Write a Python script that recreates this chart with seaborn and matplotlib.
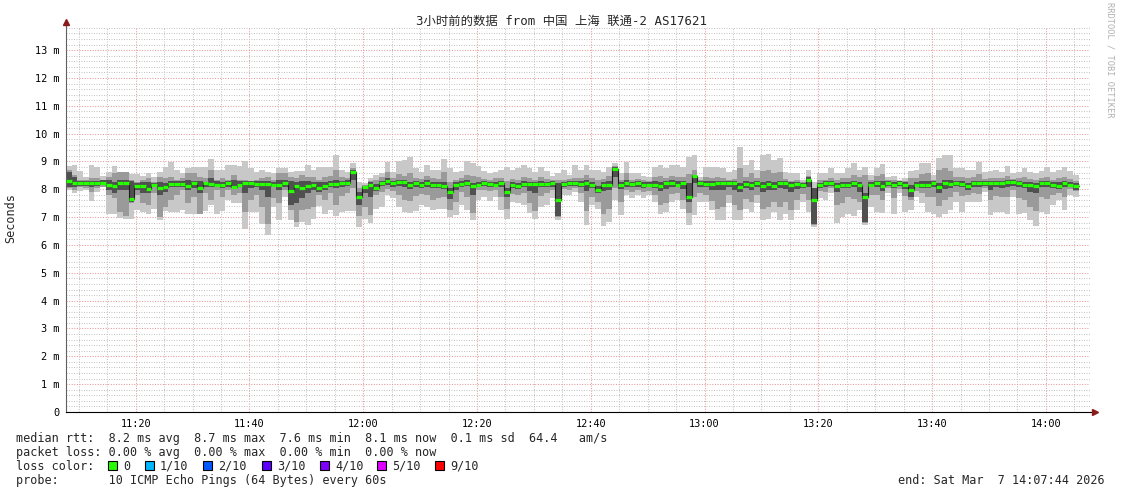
import numpy as np
import pandas as pd
import seaborn as sns
import matplotlib.pyplot as plt
from matplotlib.patches import Rectangle
from matplotlib.ticker import MultipleLocator, FuncFormatter

# Zeitachse in Minuten seit Mitternacht, ein Sample pro Minute (every 60s)
t_start = 11 * 60 + 7.75
t_end = 14 * 60 + 7.75

# Median-RTT (ms)
med = [8.29, 8.23, 8.21, 8.21, 8.21, 8.21, 8.23, 8.17, 8.11, 8.24, 8.24, 7.65, 8.13, 8.13, 8.00,
       8.17, 8.03, 8.09, 8.19, 8.19, 8.19, 8.13, 8.21, 8.03, 8.21, 8.19, 8.15, 8.17, 8.21, 8.09,
       8.17, 8.23, 8.21, 8.19, 8.19, 8.19, 8.17, 8.17, 8.21, 7.93, 8.13, 8.03, 8.13, 8.17, 8.03,
       8.13, 8.19, 8.19, 8.23, 8.23, 8.63, 7.73, 8.07, 8.17, 8.05, 8.23, 8.29, 8.21, 8.25, 8.25,
       8.15, 8.23, 8.17, 8.23, 8.17, 8.17, 8.11, 7.89, 8.17, 8.19, 8.23, 8.11, 8.17, 8.23, 8.19,
       8.17, 8.23, 7.91, 8.15, 8.13, 8.19, 8.19, 8.19, 8.19, 8.19, 8.21, 7.60, 8.19, 8.21, 8.21,
       8.19, 8.23, 8.17, 7.99, 8.17, 8.17, 8.73, 8.17, 8.21, 8.19, 8.21, 8.17, 8.17, 8.17, 8.11,
       8.21, 8.23, 8.17, 8.21, 7.71, 8.47, 8.23, 8.19, 8.19, 8.21, 8.21, 8.23, 8.21, 8.09, 8.19,
       8.15, 8.23, 8.11, 8.19, 8.13, 8.21, 8.23, 8.15, 8.19, 8.17, 8.35, 7.61, 8.15, 8.23, 8.23,
       8.11, 8.17, 8.17, 8.21, 8.17, 7.71, 8.17, 8.23, 8.13, 8.23, 8.17, 8.23, 8.15, 7.97, 8.17,
       8.17, 8.17, 8.23, 8.07, 8.21, 8.19, 8.23, 8.19, 8.11, 8.21, 8.21, 8.21, 8.21, 8.21, 8.23,
       8.25, 8.25, 8.23, 8.17, 8.15, 8.11, 8.23, 8.23, 8.17, 8.13, 8.23, 8.17, 8.11]

# Rauch: max / min der 10 Pings
hi = [8.83, 8.89, 8.65, 8.45, 8.87, 8.81, 8.47, 8.63, 8.83, 8.61, 8.61, 8.55, 8.55, 8.47, 8.57,
      8.45, 8.63, 8.79, 8.99, 8.71, 8.57, 8.75, 8.79, 8.81, 8.79, 9.09, 8.69, 8.69, 8.89, 8.89,
      8.83, 9.03, 8.75, 8.61, 8.69, 8.61, 8.57, 8.75, 8.75, 8.61, 8.65, 8.65, 8.89, 8.69, 8.79,
      8.81, 8.81, 9.23, 8.69, 8.63, 8.93, 8.27, 8.21, 8.39, 8.51, 8.57, 8.99, 8.63, 9.03, 9.05,
      9.17, 8.75, 8.63, 8.87, 8.71, 8.69, 9.09, 8.75, 8.63, 8.67, 9.03, 8.93, 8.83, 8.67, 8.57,
      8.63, 8.69, 8.81, 8.71, 8.75, 8.87, 8.75, 8.63, 8.81, 8.67, 8.47, 8.57, 8.69, 8.51, 8.87,
      8.69, 8.87, 8.71, 8.69, 8.63, 8.81, 8.93, 8.59, 8.99, 8.57, 8.57, 8.47, 8.45, 8.81, 8.87,
      8.75, 8.87, 8.87, 8.81, 9.17, 9.23, 8.45, 8.81, 8.81, 8.81, 8.75, 8.63, 8.69, 9.53, 8.87,
      9.07, 8.69, 9.23, 9.27, 9.05, 9.11, 8.63, 8.57, 8.57, 8.33, 8.71, 8.27, 8.57, 8.57, 8.75,
      8.57, 8.57, 8.75, 8.93, 8.69, 8.81, 8.51, 8.75, 8.91, 8.45, 8.47, 8.33, 8.39, 8.67, 8.69,
      8.93, 8.95, 8.51, 9.11, 9.23, 9.23, 8.75, 8.75, 8.69, 8.71, 8.99, 8.63, 8.67, 8.69, 8.63,
      8.83, 8.59, 8.63, 8.75, 8.63, 8.59, 8.67, 8.79, 8.63, 8.69, 8.81, 8.67, 8.51]
lo = [7.97, 7.87, 7.95, 7.97, 7.57, 7.91, 8.09, 7.13, 7.13, 6.97, 6.95, 6.95, 7.25, 7.19, 7.11,
      7.31, 6.89, 7.23, 7.19, 7.19, 7.25, 7.13, 7.11, 7.13, 7.21, 7.43, 7.13, 7.21, 7.61, 7.51,
      7.49, 6.59, 7.19, 7.19, 6.77, 6.35, 7.37, 6.89, 7.73, 6.89, 6.63, 6.83, 6.71, 6.93, 7.39,
      7.13, 7.25, 7.03, 7.19, 7.21, 7.23, 6.63, 6.95, 6.79, 7.31, 7.37, 7.79, 7.67, 7.37, 7.19,
      7.15, 7.23, 7.43, 7.37, 7.25, 7.31, 7.31, 7.01, 7.07, 7.43, 7.25, 6.89, 7.61, 7.71, 7.59,
      7.71, 7.25, 6.95, 7.55, 7.51, 7.43, 7.15, 6.95, 7.37, 7.43, 7.67, 6.91, 7.79, 7.79, 7.91,
      7.55, 6.71, 7.43, 7.31, 6.67, 6.83, 7.61, 7.07, 7.79, 7.67, 7.79, 7.67, 7.79, 7.55, 7.13,
      7.19, 7.55, 7.63, 7.31, 6.71, 7.07, 7.55, 7.55, 7.25, 6.89, 6.89, 7.49, 6.89, 6.89, 7.31,
      7.19, 7.49, 6.89, 6.95, 7.19, 6.89, 7.13, 6.89, 7.25, 7.55, 7.19, 6.65, 7.67, 7.61, 7.85,
      6.79, 7.01, 7.13, 7.03, 7.25, 6.71, 7.37, 7.19, 7.15, 7.85, 7.13, 7.85, 7.19, 7.25, 7.73,
      7.49, 7.19, 7.13, 7.01, 7.13, 7.25, 7.55, 7.19, 7.55, 7.55, 7.55, 7.91, 7.07, 7.19, 7.19,
      7.13, 7.73, 7.13, 7.15, 6.89, 6.67, 7.19, 7.13, 7.43, 7.61, 7.25, 7.79, 7.73]

# Rauch: 2. / 9. Ping
hi2 = [8.69, 8.51, 8.35, 8.33, 8.39, 8.39, 8.35, 8.45, 8.57, 8.63, 8.63, 8.33, 8.27, 8.35, 8.39,
       8.27, 8.45, 8.39, 8.43, 8.33, 8.39, 8.57, 8.59, 8.45, 8.39, 8.69, 8.33, 8.39, 8.35, 8.51,
       8.35, 8.33, 8.31, 8.33, 8.39, 8.43, 8.33, 8.57, 8.57, 8.43, 8.39, 8.51, 8.45, 8.45, 8.35,
       8.45, 8.49, 8.69, 8.43, 8.41, 8.75, 8.05, 8.17, 8.31, 8.35, 8.45, 8.61, 8.39, 8.55, 8.49,
       8.59, 8.41, 8.37, 8.47, 8.39, 8.37, 8.61, 8.27, 8.35, 8.41, 8.53, 8.47, 8.43, 8.37, 8.35,
       8.39, 8.41, 8.31, 8.37, 8.35, 8.43, 8.41, 8.33, 8.45, 8.37, 8.33, 8.35, 8.35, 8.37, 8.41,
       8.41, 8.51, 8.39, 8.33, 8.37, 8.47, 8.83, 8.33, 8.57, 8.35, 8.37, 8.33, 8.31, 8.45, 8.49,
       8.41, 8.47, 8.45, 8.43, 8.55, 8.69, 8.33, 8.45, 8.41, 8.43, 8.39, 8.35, 8.37, 8.75, 8.43,
       8.57, 8.39, 8.65, 8.71, 8.59, 8.61, 8.37, 8.31, 8.33, 8.27, 8.49, 8.05, 8.33, 8.35, 8.41,
       8.35, 8.39, 8.41, 8.53, 8.43, 8.51, 8.33, 8.47, 8.55, 8.33, 8.35, 8.31, 8.29, 8.41, 8.39,
       8.55, 8.59, 8.35, 8.69, 8.75, 8.67, 8.43, 8.45, 8.41, 8.43, 8.55, 8.37, 8.39, 8.41, 8.39,
       8.49, 8.37, 8.39, 8.43, 8.37, 8.35, 8.39, 8.45, 8.35, 8.39, 8.45, 8.37, 8.29]
lo2 = [8.03, 7.97, 8.09, 8.03, 7.91, 8.03, 8.09, 7.79, 7.67, 7.19, 7.05, 7.49, 7.79, 7.49, 7.43,
       7.85, 7.00, 7.37, 7.61, 7.79, 7.97, 7.49, 7.73, 7.13, 7.85, 7.61, 7.97, 7.73, 7.97, 7.79,
       7.85, 7.19, 7.61, 7.79, 7.37, 6.77, 7.67, 7.49, 7.97, 7.25, 6.83, 7.25, 7.31, 7.37, 7.79,
       7.63, 7.85, 7.45, 7.75, 7.85, 8.05, 7.03, 7.35, 7.07, 7.79, 7.89, 8.01, 7.95, 7.81, 7.61,
       7.59, 7.75, 7.83, 7.79, 7.61, 7.69, 7.73, 7.25, 7.55, 7.89, 7.71, 7.15, 7.97, 7.99, 7.95,
       7.99, 7.73, 7.29, 7.83, 7.81, 7.85, 7.49, 7.21, 7.75, 7.85, 7.97, 7.01, 8.01, 7.97, 8.05,
       7.85, 7.21, 7.71, 7.55, 7.11, 7.31, 8.05, 7.55, 7.97, 7.89, 7.97, 7.89, 7.95, 7.81, 7.45,
       7.51, 7.83, 7.87, 7.61, 7.15, 7.73, 7.85, 7.81, 7.57, 7.31, 7.35, 7.79, 7.45, 7.25, 7.65,
       7.55, 7.79, 7.29, 7.35, 7.55, 7.35, 7.53, 7.25, 7.61, 7.83, 7.61, 6.71, 7.93, 7.91, 8.03,
       7.45, 7.51, 7.71, 7.65, 7.55, 6.79, 7.81, 7.79, 7.61, 8.03, 7.69, 8.01, 7.75, 7.61, 7.95,
       7.85, 7.73, 7.71, 7.39, 7.61, 7.73, 7.89, 7.75, 7.81, 7.85, 7.83, 8.05, 7.61, 7.75, 7.73,
       7.71, 7.97, 7.69, 7.61, 7.35, 7.21, 7.71, 7.65, 7.79, 7.85, 7.71, 8.01, 7.95]

# Rauch: innere Pings (dunkel)
hi3 = [8.63, 8.45, 8.31, 8.29, 8.31, 8.31, 8.33, 8.33, 8.27, 8.35, 8.35, 8.31, 8.23, 8.27, 8.27,
       8.23, 8.27, 8.23, 8.31, 8.29, 8.29, 8.33, 8.31, 8.31, 8.27, 8.39, 8.29, 8.27, 8.31, 8.35,
       8.29, 8.31, 8.29, 8.29, 8.29, 8.31, 8.27, 8.35, 8.33, 8.31, 8.27, 8.31, 8.31, 8.27, 8.27,
       8.25, 8.29, 8.33, 8.31, 8.33, 8.69, 7.91, 8.13, 8.25, 8.19, 8.31, 8.39, 8.29, 8.35, 8.33,
       8.27, 8.31, 8.25, 8.33, 8.27, 8.27, 8.25, 8.05, 8.27, 8.29, 8.33, 8.23, 8.27, 8.31, 8.27,
       8.27, 8.31, 8.05, 8.25, 8.23, 8.29, 8.27, 8.27, 8.29, 8.27, 8.29, 8.21, 8.27, 8.29, 8.29,
       8.29, 8.33, 8.27, 8.13, 8.27, 8.29, 8.79, 8.27, 8.33, 8.27, 8.29, 8.27, 8.25, 8.29, 8.27,
       8.31, 8.33, 8.29, 8.31, 8.21, 8.53, 8.29, 8.29, 8.29, 8.31, 8.29, 8.29, 8.29, 8.23, 8.29,
       8.27, 8.31, 8.25, 8.31, 8.27, 8.31, 8.29, 8.25, 8.27, 8.23, 8.43, 8.05, 8.23, 8.29, 8.31,
       8.23, 8.27, 8.27, 8.31, 8.27, 7.85, 8.27, 8.31, 8.31, 8.31, 8.27, 8.31, 8.25, 8.15, 8.27,
       8.29, 8.29, 8.31, 8.23, 8.35, 8.33, 8.31, 8.29, 8.23, 8.29, 8.31, 8.29, 8.29, 8.29, 8.31,
       8.35, 8.33, 8.31, 8.27, 8.27, 8.23, 8.31, 8.31, 8.27, 8.25, 8.31, 8.27, 8.23]
lo3 = [8.09, 8.09, 8.11, 8.11, 8.09, 8.11, 8.15, 7.97, 7.85, 7.97, 7.97, 7.55, 7.97, 7.85, 7.85,
       8.07, 7.79, 7.91, 8.09, 8.09, 8.09, 7.97, 8.03, 7.85, 8.09, 8.09, 8.09, 8.03, 8.09, 8.03,
       8.09, 7.85, 8.03, 8.09, 7.97, 7.73, 8.09, 7.97, 8.09, 7.43, 7.49, 7.67, 7.85, 7.97, 7.91,
       7.97, 8.07, 8.05, 8.09, 8.11, 8.33, 7.45, 7.85, 7.73, 7.95, 8.11, 8.17, 8.09, 8.13, 8.09,
       8.01, 8.07, 8.03, 8.09, 8.05, 8.05, 8.01, 7.65, 7.97, 8.07, 8.11, 7.81, 8.07, 8.11, 8.09,
       8.07, 8.09, 7.73, 8.03, 8.01, 8.07, 7.93, 7.85, 8.07, 8.09, 8.09, 7.05, 8.09, 8.11, 8.11,
       8.07, 7.93, 8.03, 7.85, 7.93, 7.97, 8.45, 8.01, 8.09, 8.07, 8.09, 8.05, 8.07, 8.05, 7.95,
       8.01, 8.09, 8.07, 8.01, 7.55, 8.21, 8.09, 8.07, 7.99, 7.97, 7.99, 8.07, 7.97, 7.91, 8.03,
       7.97, 8.07, 7.89, 7.99, 7.97, 8.03, 8.01, 7.91, 8.01, 8.05, 8.09, 6.75, 8.05, 8.09, 8.13,
       7.91, 8.03, 8.05, 8.07, 7.89, 6.83, 8.07, 8.09, 7.95, 8.13, 8.03, 8.11, 8.01, 7.73, 8.07,
       8.05, 8.03, 8.09, 7.85, 8.01, 8.05, 8.11, 8.07, 7.97, 8.09, 8.07, 8.13, 7.97, 8.07, 8.05,
       8.07, 8.13, 8.07, 8.03, 7.89, 7.85, 8.07, 8.09, 8.03, 8.01, 8.07, 8.07, 7.97]

loss_labels = ["0", "1/10", "2/10", "3/10", "4/10", "5/10", "9/10"]
loss_colors = ["#26ff00", "#00b8ff", "#0059ff", "#5e00ff", "#7e00ff", "#dd00ff", "#ff0000"]

title = "3小时前的数据 from 中国 上海 联通-2 AS17621"
stats = [
    "median rtt:  8.2 ms avg  8.7 ms max  7.6 ms min  8.1 ms now  0.1 ms sd  64.4   am/s",
    "packet loss: 0.00 % avg  0.00 % max  0.00 % min  0.00 % now",
]
probe = "probe:       10 ICMP Echo Pings (64 Bytes) every 60s"
end_text = "end: Sat Mar  7 14:07:44 2026"

n = len(med)
df = pd.DataFrame({
    "t": t_start + np.arange(n + 1),
    "med": med + med[-1:], "hi": hi + hi[-1:], "lo": lo + lo[-1:],
    "hi2": hi2 + hi2[-1:], "lo2": lo2 + lo2[-1:],
    "hi3": hi3 + hi3[-1:], "lo3": lo3 + lo3[-1:],
})

sns.set_style("white")
plt.rcParams["font.family"] = ["DejaVu Sans Mono", "Noto Sans CJK SC"]

W, H = 1121, 494
fig = plt.figure(figsize=(W / 100, H / 100), dpi=100)
ax = fig.add_axes([66 / W, 1 - 412 / H, (1090 - 66) / W, (412 - 27) / H])

# Rauch (Smoke) von aussen nach innen
for a, b, c in [("lo", "hi", "#c8c8c8"), ("lo2", "hi2", "#9a9a9a"), ("lo3", "hi3", "#505050")]:
    ax.fill_between(df.t, df[a], df[b], step="post", color=c, lw=0, antialiased=False, zorder=2)

# Median: dunkle Treppenlinie + grüne Stufen (loss 0)
sns.lineplot(data=df, x="t", y="med", drawstyle="steps-post", color="#1c1c1c",
             lw=0.8, estimator=None, ax=ax, zorder=3)
ax.hlines(med, df.t[:-1], df.t[1:], color=loss_colors[0], lw=2.3, zorder=4)

ax.set_xlim(t_start, t_end)
ax.set_ylim(0, 13.83)
ax.xaxis.set_major_locator(MultipleLocator(20))
ax.xaxis.set_minor_locator(MultipleLocator(5))
ax.yaxis.set_major_locator(MultipleLocator(1))
ax.yaxis.set_minor_locator(MultipleLocator(0.2))
ax.xaxis.set_major_formatter(FuncFormatter(lambda v, p: f"{int(v // 60):02d}:{int(round(v % 60)):02d}"))
ax.yaxis.set_major_formatter(FuncFormatter(lambda v, p: "0" if v == 0 else f"{v:.0f} m"))

ax.grid(True, which="minor", color="#c4c4c4", ls=(0, (1, 1.5)), lw=0.72, zorder=0)
ax.grid(True, which="major", color="#e99a9a", ls=(0, (1, 1.5)), lw=0.75, zorder=0)
ax.set_axisbelow(True)

ax.tick_params(which="major", length=2.5, width=0.6, colors="#000000", labelsize=7.4, pad=2.5)
ax.tick_params(which="minor", length=1.5, width=0.5, color="#444444")
ax.tick_params(axis="y", pad=2.5)
ax.set_xlabel("")
ax.set_ylabel("")

for s in ["top", "right"]:
    ax.spines[s].set_visible(False)
ax.spines["left"].set_color("#606060")
ax.spines["left"].set_linewidth(0.8)
ax.spines["bottom"].set_color("#000000")
ax.spines["bottom"].set_linewidth(0.8)

# Pfeile an den Achsen
ax.plot([0, 0], [1, 1.012], transform=ax.transAxes, clip_on=False, color="#606060", lw=0.8)
ax.plot([1, 1.004], [0, 0], transform=ax.transAxes, clip_on=False, color="#000000", lw=0.8)
ax.plot(0, 1.014, marker="^", ms=4, color="#8b1a1a", transform=ax.transAxes, clip_on=False)
ax.plot(1.0045, 0, marker=">", ms=4, color="#8b1a1a", transform=ax.transAxes, clip_on=False)

fs = 8.5
fig.text(561 / W, 1 - 21 / H, title, ha="center", va="center", fontsize=8.9)
fig.text(11 / W, 1 - 218 / H, "Seconds", rotation=90, ha="center", va="center", fontsize=fs)
fig.text(1110 / W, 1 - 60 / H, "RRDTOOL / TOBI OETIKER", rotation=270, ha="center",
         va="center", fontsize=6.2, color="#b0b0b0")

fig.text(16 / W, 1 - 438 / H, stats[0], ha="left", va="center", fontsize=fs)
fig.text(16 / W, 1 - 452 / H, stats[1], ha="left", va="center", fontsize=fs)
fig.text(16 / W, 1 - 466 / H, "loss color:", ha="left", va="center", fontsize=fs)
box_x = [108, 145, 203, 262, 320, 377, 435]
for bx, lab, col in zip(box_x, loss_labels, loss_colors):
    fig.patches.append(Rectangle((bx / W, 1 - 470 / H), 9 / W, 9 / H, transform=fig.transFigure,
                                 facecolor=col, edgecolor="#000000", lw=0.8))
    fig.text((bx + 15) / W, 1 - 466 / H, lab, ha="left", va="center", fontsize=fs)
fig.text(16 / W, 1 - 480 / H, probe, ha="left", va="center", fontsize=fs)
fig.text(1105 / W, 1 - 480 / H, end_text, ha="right", va="center", fontsize=fs)

fig.savefig("out.png", dpi=100, facecolor="white")
